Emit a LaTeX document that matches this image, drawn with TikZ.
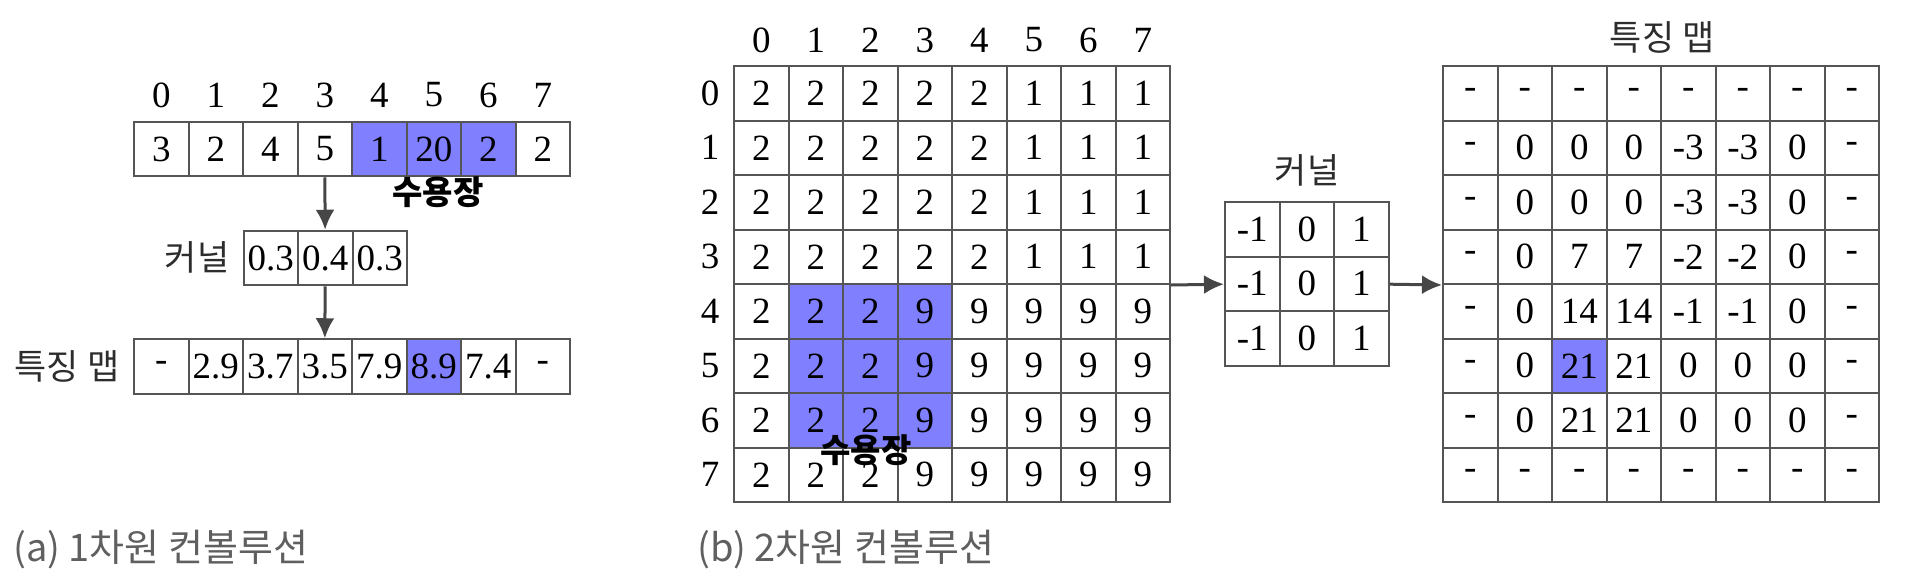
\documentclass[tikz,border=0pt]{standalone}
\usepackage{fontspec}
\setmainfont{Liberation Serif}
\newfontfamily\kr{Noto Sans CJK KR}
\usepackage{tikz}
\usetikzlibrary{arrows.meta}
\definecolor{hlblue}{RGB}{128,128,255}
\definecolor{gridgray}{RGB}{85,85,85}
\definecolor{arrowgray}{RGB}{70,70,70}
\definecolor{labelgray}{RGB}{45,45,45}
\definecolor{capgray}{RGB}{95,95,95}
\tikzstyle{line} = [draw=arrowgray, line width=3pt, -{Latex[length=20pt,width=19pt]}]
\tikzset{
  cell/.style={draw=gridgray, line width=2pt, minimum size=54.5pt, inner sep=0pt,
    font=\fontsize{37}{40}\selectfont},
  idx/.style={inner sep=0pt, font=\fontsize{37}{40}\selectfont},
  lab/.style={inner sep=0pt, text=labelgray, font=\kr\fontsize{35}{40}\selectfont},
  rf/.style={inner sep=0pt, font=\kr\bfseries\fontsize{33}{36}\selectfont},
  captxt/.style={inner sep=0pt, anchor=west, text=capgray, font=\kr\fontsize{38}{40}\selectfont}
}

\begin{document}
\begin{tikzpicture}[x=1pt, y=-1pt]
	\useasboundingbox (0,0) rectangle (1908,584);

	% (a) 1D convolution
	\foreach \i in {0,...,7}
		\node[idx] (ai-\i) at ({134+54.5*(\i+0.5)},95) {\i};
	\foreach \v/\f [count=\i from 0] in {3/white,2/white,4/white,5/white,1/hlblue,20/hlblue,2/hlblue,2/white}
		\node[cell, fill=\f] (a-\i) at ({134+54.5*(\i+0.5)},149) {\v};
	\foreach \v [count=\i from 0] in {0.3,0.4,0.3}
		\node[cell] (ka-\i) at ({243.5+54.5*(\i+0.5)},258) {\v};
	\foreach \v/\f [count=\i from 0] in {-/white,2.9/white,3.7/white,3.5/white,7.9/white,8.9/hlblue,7.4/white,-/white}
		\node[cell, fill=\f] (fa-\i) at ({134+54.5*(\i+0.5)},366.5) {\v};

	\node[lab] (ka-lab) at (197,257) {커널};
	\node[lab] (fa-lab) at (67,366) {특징 맵};
	\node[rf] (ra) at (438,192) {수용장};

	% arrows
	\draw [line] (a-3) -- (ka-1);
	\draw [line] (ka-1) -- (fa-3);

	% (b) 2D convolution
	\foreach \i in {0,...,7} {
		\node[idx] (bc-\i) at ({734+54.5*(\i+0.5)},40) {\i};
		\node[idx] (br-\i) at (710,{66+54.5*(\i+0.5)}) {\i};
	}
	\foreach \row [count=\r from 0] in {{2,2,2,2,2,1,1,1},{2,2,2,2,2,1,1,1},{2,2,2,2,2,1,1,1},{2,2,2,2,2,1,1,1},{2,2,2,9,9,9,9,9},{2,2,2,9,9,9,9,9},{2,2,2,9,9,9,9,9},{2,2,2,9,9,9,9,9}}
		\foreach \v [count=\c from 0] in \row {
			\pgfmathtruncatemacro\hit{(\r>3)&&(\r<7)&&(\c>0)&&(\c<4)}
			\ifnum\hit=1 \def\f{hlblue}\else\def\f{white}\fi
			\node[cell, fill=\f] (b-\r-\c) at ({734+54.5*(\c+0.5)},{66+54.5*(\r+0.5)}) {\v};
		}
	\foreach \r in {0,1,2}
		\foreach \v [count=\c from 0] in {-1,0,1}
			\node[cell] (kb-\r-\c) at ({1225+54.5*(\c+0.5)},{202+54.5*(\r+0.5)}) {\v};
	\foreach \row [count=\r from 0] in {{-,-,-,-,-,-,-,-},{-,0,0,0,-3,-3,0,-},{-,0,0,0,-3,-3,0,-},{-,0,7,7,-2,-2,0,-},{-,0,14,14,-1,-1,0,-},{-,0,21,21,0,0,0,-},{-,0,21,21,0,0,0,-},{-,-,-,-,-,-,-,-}}
		\foreach \v [count=\c from 0] in \row {
			\pgfmathtruncatemacro\hit{(\r==5)&&(\c==2)}
			\ifnum\hit=1 \def\f{hlblue}\else\def\f{white}\fi
			\node[cell, fill=\f] (fb-\r-\c) at ({1443+54.5*(\c+0.5)},{66+54.5*(\r+0.5)}) {\v};
		}

	\node[lab] (kb-lab) at (1307,170) {커널};
	\node[lab] (fb-lab) at (1662,37) {특징 맵};
	\node[rf] (rb) at (866,450) {수용장};

	% arrows
	\draw [line] (b-3-7.south east) -- (kb-1-0);
	\draw [line] (kb-1-2) -- (fb-3-0.south west);

	% captions
	\node[captxt] (capa) at (13,550) {(a) 1차원 컨볼루션};
	\node[captxt] (capb) at (697,550) {(b) 2차원 컨볼루션};

\end{tikzpicture}
\end{document}
